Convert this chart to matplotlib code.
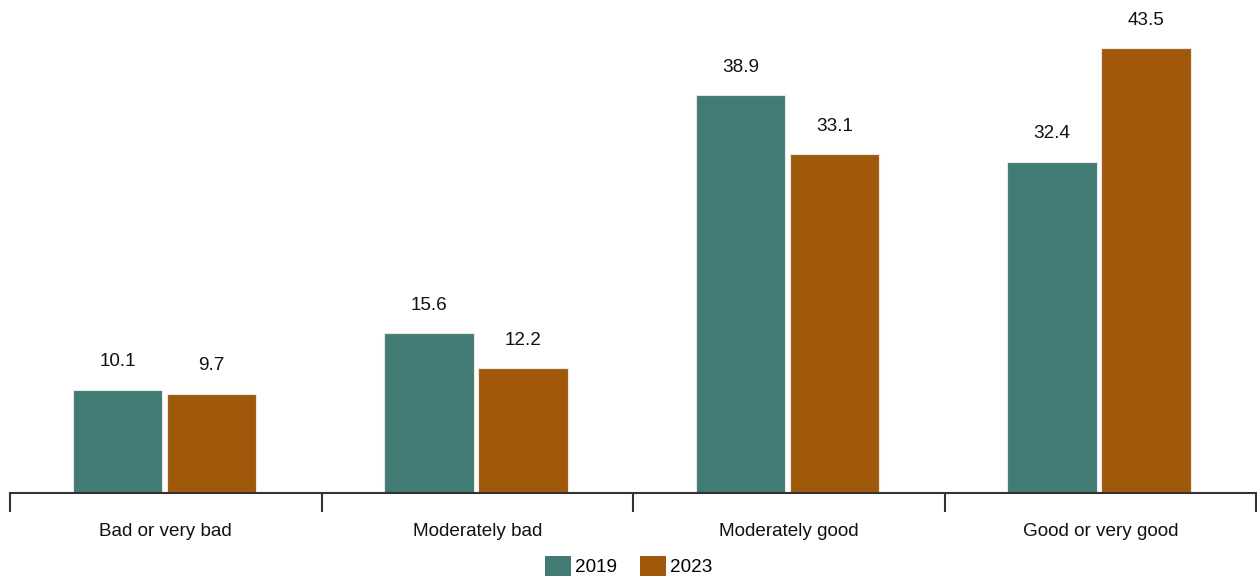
import numpy as np
import matplotlib.pyplot as plt
from matplotlib.patches import Patch
from matplotlib.transforms import blended_transform_factory

plt.rcParams['font.family'] = ['Liberation Sans', 'DejaVu Sans']

categories = ["Bad or very bad", "Moderately bad", "Moderately good", "Good or very good"]
years = ["2019", "2023"]
vals_2019 = [10.1, 15.6, 38.9, 32.4]
vals_2023 = [9.7, 12.2, 33.1, 43.5]
colors = ["#417B73", "#A0590A"]

W, H = 1257, 576
fig = plt.figure(figsize=(W / 100, H / 100), dpi=100)
ax = fig.add_axes([10 / W, (H - 493) / H, 1246 / W, 493 / H])

x = np.arange(len(categories))
bw = 0.287
off = 0.151
fs = 13.6
for vals, sign, col in ((vals_2019, -1, colors[0]), (vals_2023, 1, colors[1])):
    bars = ax.bar(x + sign * off - 0.004, vals, width=bw, color=col,
                  edgecolor="#e8e8e8", linewidth=0.8, zorder=2)
    for b, v in zip(bars, vals):
        ax.annotate(f"{v:.1f}", (b.get_x() + b.get_width() / 2, v),
                    xytext=(0, 14), textcoords="offset points",
                    ha="center", va="bottom", fontsize=fs, color="#111111")

ax.set_xlim(-0.5, 3.5)
ax.set_ylim(0, 48.2)
for s in ("top", "right", "left"):
    ax.spines[s].set_visible(False)
ax.spines["bottom"].set_color("#333333")
ax.spines["bottom"].set_linewidth(1.5)
ax.set_yticks([])
ax.set_xticks(np.arange(-0.5, 4, 1))
ax.set_xticklabels([])
ax.tick_params(axis="x", direction="out", length=14, width=1.5, color="#333333")

trans = blended_transform_factory(ax.transData, fig.transFigure)
for i, c in enumerate(categories):
    ax.text(i, 1 - 532 / H, c, transform=trans, ha="center", va="center",
            fontsize=fs, color="#111111")

handles = [Patch(facecolor=colors[0]), Patch(facecolor=colors[1])]
fig.legend(handles, years, loc="center", bbox_to_anchor=(0.5, 1 - 566 / H),
           ncol=2, frameon=False, fontsize=fs, handlelength=1.4,
           handleheight=1.3, handletextpad=0.2, columnspacing=1.2)

fig.savefig("out.png", dpi=100)
